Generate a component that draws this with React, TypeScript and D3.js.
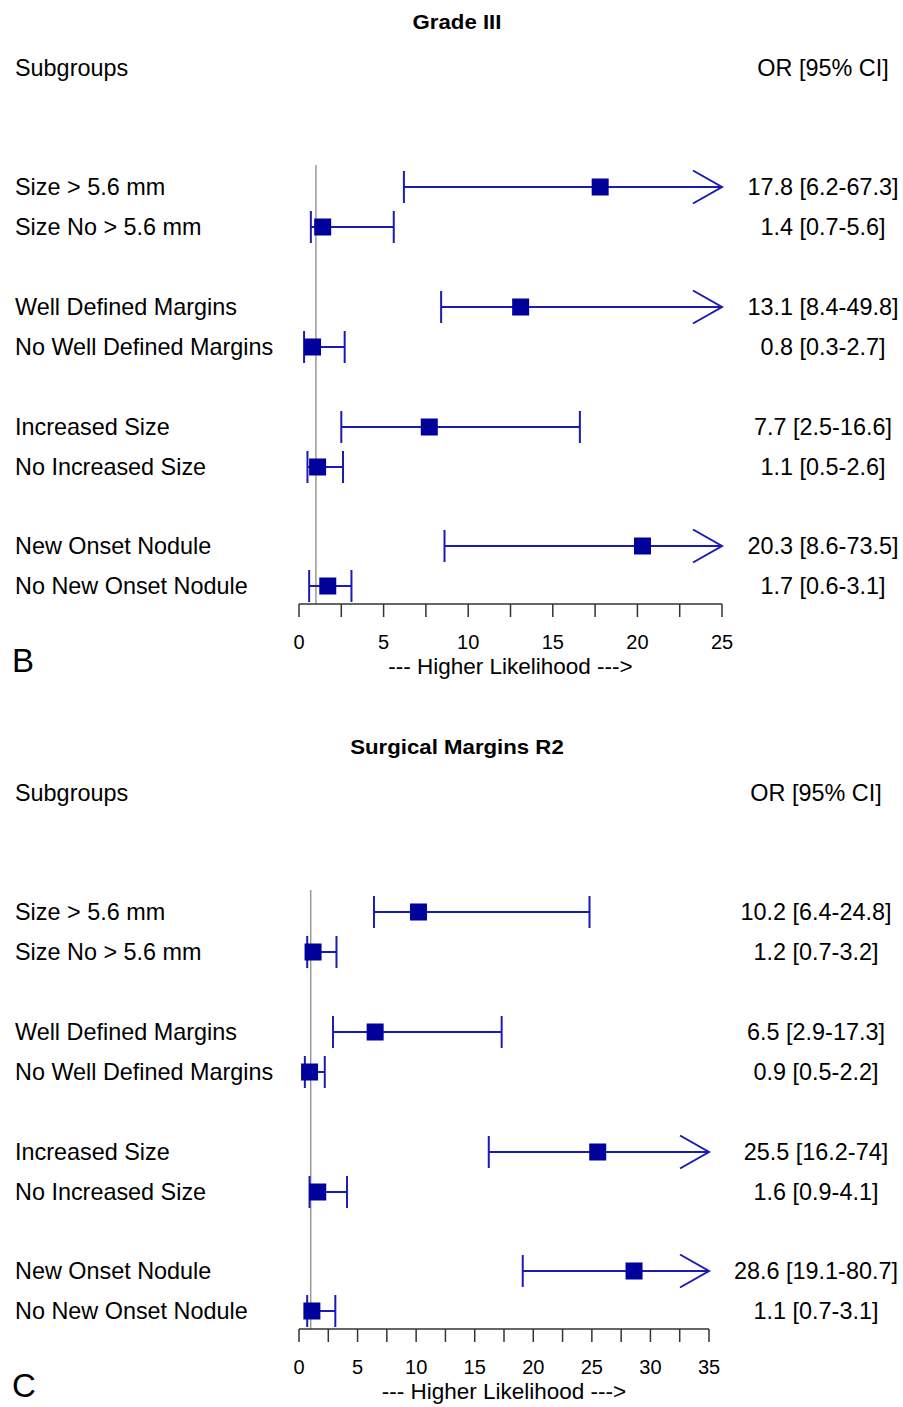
import React, { useEffect, useRef } from "react";
import * as d3 from "d3";

const subgroups = [
  "Size > 5.6 mm",
  "Size No > 5.6 mm",
  "Well Defined Margins",
  "No Well Defined Margins",
  "Increased Size",
  "No Increased Size",
  "New Onset Nodule",
  "No New Onset Nodule",
];

const titles = ["Grade III", "Surgical Margins R2"];
const panelLetters = ["B", "C"];
const axisMax = [25, 35];

const orB = [17.8, 1.4, 13.1, 0.8, 7.7, 1.1, 20.3, 1.7];
const lowB = [6.2, 0.7, 8.4, 0.3, 2.5, 0.5, 8.6, 0.6];
const highB = [67.3, 5.6, 49.8, 2.7, 16.6, 2.6, 73.5, 3.1];
const textB = [
  "17.8 [6.2-67.3]",
  "1.4 [0.7-5.6]",
  "13.1 [8.4-49.8]",
  "0.8 [0.3-2.7]",
  "7.7 [2.5-16.6]",
  "1.1 [0.5-2.6]",
  "20.3 [8.6-73.5]",
  "1.7 [0.6-3.1]",
];

const orC = [10.2, 1.2, 6.5, 0.9, 25.5, 1.6, 28.6, 1.1];
const lowC = [6.4, 0.7, 2.9, 0.5, 16.2, 0.9, 19.1, 0.7];
const highC = [24.8, 3.2, 17.3, 2.2, 74, 4.1, 80.7, 3.1];
const textC = [
  "10.2 [6.4-24.8]",
  "1.2 [0.7-3.2]",
  "6.5 [2.9-17.3]",
  "0.9 [0.5-2.2]",
  "25.5 [16.2-74]",
  "1.6 [0.9-4.1]",
  "28.6 [19.1-80.7]",
  "1.1 [0.7-3.1]",
];

const W = 903;
const H = 1407;
const FONT = "'Liberation Sans', Arial, sans-serif";
const LINE = "#1a1ab4";
const BOX = "#00009a";

export default function App() {
  const ref = useRef<SVGSVGElement | null>(null);

  useEffect(() => {
    const svg = d3.select(ref.current);
    svg.selectAll("*").remove();
    svg.append("rect").attr("width", W).attr("height", H).attr("fill", "#fff");

    const panels = [
      { or: orB, lo: lowB, hi: highB, txt: textB, xr: [299, 722], orX: 823 },
      { or: orC, lo: lowC, hi: highC, txt: textC, xr: [299, 709], orX: 816 },
    ];

    panels.forEach((p, pi) => {
      const off = pi * 725;
      const g = svg.append("g").attr("transform", `translate(0,${off})`);
      const x = d3.scaleLinear().domain([0, axisMax[pi]]).range(p.xr);
      const rowY = d3
        .scaleOrdinal<number, number>()
        .domain(d3.range(8))
        .range([187, 227, 307, 347, 427, 467, 546, 586]);
      const axisY = 604;

      g.append("text")
        .attr("transform", `translate(457,29) scale(1.14,1)`)
        .attr("text-anchor", "middle")
        .attr("font-family", FONT)
        .attr("font-weight", "bold")
        .attr("font-size", 19.5)
        .text(titles[pi]);

      g.append("text")
        .attr("x", 15)
        .attr("y", 76)
        .attr("font-family", FONT)
        .attr("font-size", 23.4)
        .text("Subgroups");
      g.append("text")
        .attr("x", p.orX)
        .attr("y", 76)
        .attr("text-anchor", "middle")
        .attr("font-family", FONT)
        .attr("font-size", 23.4)
        .text("OR [95% CI]");

      g.append("line")
        .attr("x1", x(1))
        .attr("x2", x(1))
        .attr("y1", 165)
        .attr("y2", axisY)
        .attr("stroke", "#999")
        .attr("stroke-width", 1.5);

      const ticks = d3.range(0, axisMax[pi] + 0.01, 2.5);
      g.append("line")
        .attr("x1", x(0))
        .attr("x2", x(axisMax[pi]))
        .attr("y1", axisY)
        .attr("y2", axisY)
        .attr("stroke", "#333")
        .attr("stroke-width", 1.5);
      g.selectAll(".tk")
        .data(ticks)
        .enter()
        .append("line")
        .attr("x1", (d) => x(d))
        .attr("x2", (d) => x(d))
        .attr("y1", axisY)
        .attr("y2", axisY + 13)
        .attr("stroke", "#333")
        .attr("stroke-width", 1.5);
      g.selectAll(".tl")
        .data(ticks.filter((d) => d % 5 === 0))
        .enter()
        .append("text")
        .attr("x", (d) => x(d))
        .attr("y", axisY + 45)
        .attr("text-anchor", "middle")
        .attr("font-family", FONT)
        .attr("font-size", 20)
        .text((d) => String(d));
      g.append("text")
        .attr("x", (x(0) + x(axisMax[pi])) / 2)
        .attr("y", axisY + 70)
        .attr("text-anchor", "middle")
        .attr("font-family", FONT)
        .attr("font-size", 22.5)
        .text("--- Higher Likelihood --->");

      g.append("text")
        .attr("x", 12)
        .attr("y", 672)
        .attr("font-family", FONT)
        .attr("font-size", 33)
        .text(panelLetters[pi]);

      subgroups.forEach((label, i) => {
        const y = rowY(i);
        g.append("text")
          .attr("x", 15)
          .attr("y", y + 8)
          .attr("font-family", FONT)
          .attr("font-size", 23.4)
          .text(label);
        g.append("text")
          .attr("x", p.orX)
          .attr("y", y + 8)
          .attr("text-anchor", "middle")
          .attr("font-family", FONT)
          .attr("font-size", 23.4)
          .text(p.txt[i]);

        const clipped = p.hi[i] > axisMax[pi];
        const xl = x(p.lo[i]);
        const xh = clipped ? x(axisMax[pi]) : x(p.hi[i]);
        g.append("line")
          .attr("x1", xl)
          .attr("x2", xh)
          .attr("y1", y)
          .attr("y2", y)
          .attr("stroke", LINE)
          .attr("stroke-width", 2);
        g.append("line")
          .attr("x1", xl)
          .attr("x2", xl)
          .attr("y1", y - 16)
          .attr("y2", y + 16)
          .attr("stroke", LINE)
          .attr("stroke-width", 2);
        if (clipped) {
          g.append("path")
            .attr("d", `M${xh - 29},${y - 16.5}L${xh},${y}L${xh - 29},${y + 16.5}`)
            .attr("fill", "none")
            .attr("stroke", LINE)
            .attr("stroke-width", 2);
        } else {
          g.append("line")
            .attr("x1", xh)
            .attr("x2", xh)
            .attr("y1", y - 16)
            .attr("y2", y + 16)
            .attr("stroke", LINE)
            .attr("stroke-width", 2);
        }
        g.append("rect")
          .attr("x", x(p.or[i]) - 8.5)
          .attr("y", y - 8.5)
          .attr("width", 17)
          .attr("height", 17)
          .attr("fill", BOX);
      });
    });
  }, []);

  return (
    <svg
      ref={ref}
      width={W}
      height={H}
      style={{ position: "absolute", left: 0, top: 0, display: "block" }}
    />
  );
}
